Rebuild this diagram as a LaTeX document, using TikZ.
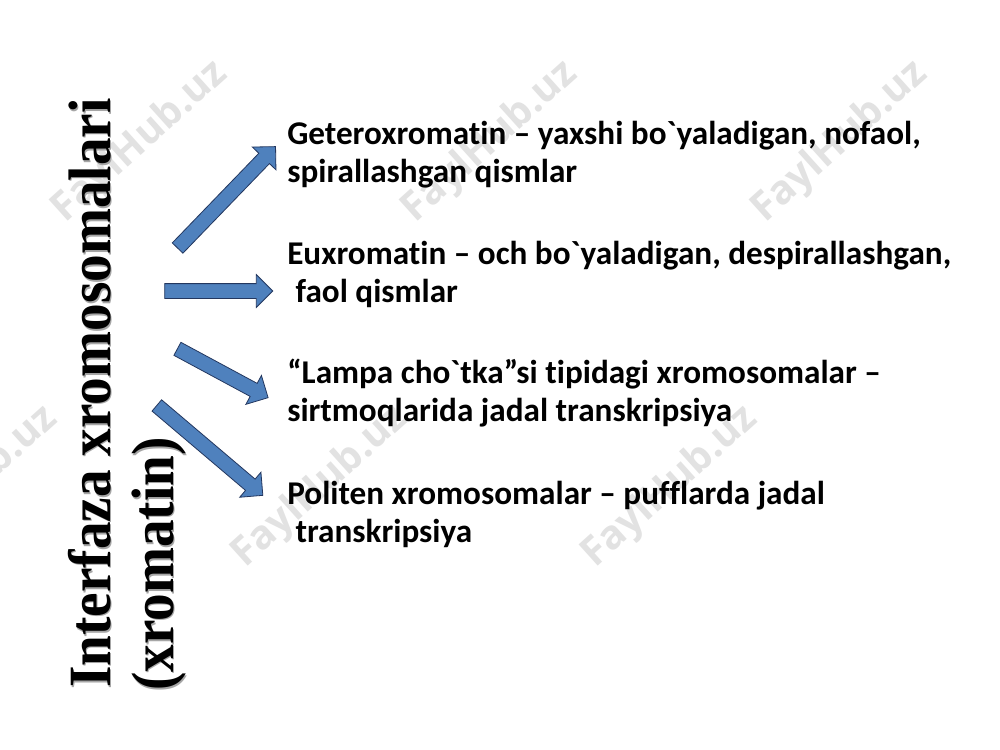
\documentclass[tikz,border=0pt]{standalone}
\usepackage{fontspec}
\setmainfont{Carlito}[Ligatures={TeXOff,NoCommon}]
\newfontfamily\titlefont[FakeStretch=0.92]{Liberation Serif}
\newfontfamily\wmfont{Open Sans}
\usetikzlibrary{shapes.arrows}
\definecolor{arrowfill}{RGB}{79,129,189}
\definecolor{arrowline}{RGB}{35,55,95}
\definecolor{wmgray}{RGB}{226,226,226}
\tikzset{
  blockarrow/.style={single arrow, draw=arrowline, fill=arrowfill, line width=0.6pt,
    inner sep=0pt, minimum width=32*0.75pt, single arrow head extend=9*0.75pt,
    single arrow tip angle=90, text height=14*0.75pt, text depth=0pt, text width=0pt},
  itemtext/.style={anchor=base west, align=left, inner sep=0pt,
    font=\fontsize{24.9}{28.5}\selectfont\bfseries},
  titletext/.style={anchor=base west, rotate=90, inner sep=0pt,
    font=\titlefont\fontsize{45}{54}\selectfont\bfseries},
  watermark/.style={rotate=42, text=wmgray, inner sep=0pt,
    font=\wmfont\fontsize{30}{36}\selectfont\bfseries}
}
\begin{document}
\begin{tikzpicture}[x=0.75pt,y=-0.75pt]
\useasboundingbox[fill=white] (0,0) rectangle (1000,750);
% watermarks
\node[watermark] (wm1) at (140,142) {FaylHub.uz};
\node[watermark] (wm2) at (490,142) {FaylHub.uz};
\node[watermark] (wm3) at (840,142) {FaylHub.uz};
\node[watermark] (wm4) at (-30,487) {FaylHub.uz};
\node[watermark] (wm5) at (320,487) {FaylHub.uz};
\node[watermark] (wm6) at (670,487) {FaylHub.uz};
% title shadow
\node[titletext, text=black!35] (t1s) at (111.5,689.5) {Interfaza xromosomalari};
\node[titletext, text=black!35] (t2s) at (174.5,692.5) {(xromatin)};
% title
\node[titletext] (t1) at (110,688) {Interfaza xromosomalari};
\node[titletext] (t2) at (173,691) {(xromatin)};
% arrows
\node[blockarrow, minimum height=141*0.75pt, rotate=46] (a1) at (224,200) {};
\node[blockarrow, minimum height=108*0.75pt] (a2) at (215,291) {};
\node[blockarrow, minimum height=103*0.75pt, rotate=-28.3] (a3) at (219.5,371.5) {};
\node[blockarrow, minimum height=139*0.75pt, rotate=-40.3] (a4) at (207,448) {};
% texts (anchor base = baseline of the last line)
\node[itemtext] (i1) at (287,182) {Geteroxromatin – yaxshi bo`yaladigan, nofaol,\\spirallashgan qismlar};
\node[itemtext] (i2) at (287,302) {Euxromatin – och bo`yaladigan, despirallashgan,\\\hspace{0.25em}faol qismlar};
\node[itemtext] (i3) at (287,421) {“Lampa cho`tka”si tipidagi xromosomalar –\\sirtmoqlarida jadal transkripsiya};
\node[itemtext] (i4) at (287,542) {Politen xromosomalar – pufflarda jadal\\\hspace{0.25em}transkripsiya};
\end{tikzpicture}
\end{document}
